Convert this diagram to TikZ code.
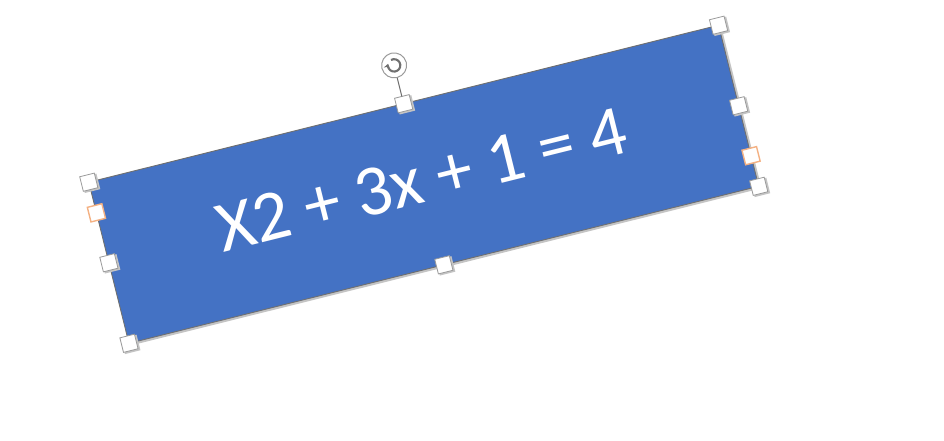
\documentclass[tikz,border=0pt]{standalone}
\usepackage{fontspec}
\setmainfont{Carlito}
\usetikzlibrary{arrows.meta,calc}
\definecolor{shapeblue}{HTML}{4472C4}
\definecolor{edgegray}{HTML}{6F6F6F}
\definecolor{handlegray}{HTML}{9A9A9A}
\definecolor{shadowgray}{HTML}{C4C4C4}
\definecolor{adjorange}{HTML}{F4B183}
\definecolor{icongray}{HTML}{707070}
\tikzset{
  x=1pt,y=1pt,
  shapebox/.style={draw=edgegray, line width=0.9pt, fill=shapeblue, minimum width=649pt, minimum height=166pt, inner sep=0pt, outer sep=0pt},
  eqtext/.style={text=white, font=\fontsize{72}{86}\selectfont, inner sep=0pt, anchor=base},
  sizehandle/.style={draw=handlegray, fill=white, line width=0.8pt, minimum size=15pt, inner sep=0pt, outer sep=0pt},
  handleshadow/.style={fill=shadowgray, minimum size=16pt, inner sep=0pt},
  adjhandle/.style={draw=adjorange, fill=white, line width=1.4pt, minimum size=15pt, inner sep=0pt},
  rothandle/.style={circle, draw=handlegray, fill=white, line width=1pt, minimum size=25pt, inner sep=0pt},
  rotline/.style={draw=icongray, line width=1pt}
}
\begin{document}
\begin{tikzpicture}
\useasboundingbox (0,0) rectangle (944,-440);
\begin{scope}[shift={(423.75,-184.25)}, rotate=14, transform shape]
  % shadow of the shape
  \fill[shadowgray] (-322.6,-85.6) rectangle (326.8,81);
  \node[shapebox] (box) at (0,0) {};
  \node[eqtext] (eq) at (-1,-18) {X2 + 3x + 1 = 4};
  % handle shadows
  \foreach \a in {north west,north,north east,east,south east,south,south west,west}{
    \node[handleshadow] at ([shift={(1.5,-1.5)}]box.\a) {};
  }
  \node[sizehandle] (hnw) at (box.north west) {};
  \node[sizehandle] (hn) at (box.north) {};
  \node[sizehandle] (hne) at (box.north east) {};
  \node[sizehandle] (he) at (box.east) {};
  \node[sizehandle] (hse) at (box.south east) {};
  \node[sizehandle] (hs) at (box.south) {};
  \node[sizehandle] (hsw) at (box.south west) {};
  \node[sizehandle] (hw) at (box.west) {};
  \node[adjhandle] (adjl) at ($(box.north west)!0.19!(box.south west)$) {};
  \node[adjhandle] (adjr) at ($(box.north east)!0.81!(box.south east)$) {};
  \node[rothandle] (rot) at (0,122.5) {};
  \draw[rotline] (rot) -- (hn);
\end{scope}
% rotation icon (upright)
\draw[icongray, line width=2.1pt, -{Stealth[length=4.8pt,width=6.5pt]}]
  ($(rot.center)+(-3.1,5.4)$) arc[start angle=120, end angle=-195, radius=6.2];
\end{tikzpicture}
\end{document}
